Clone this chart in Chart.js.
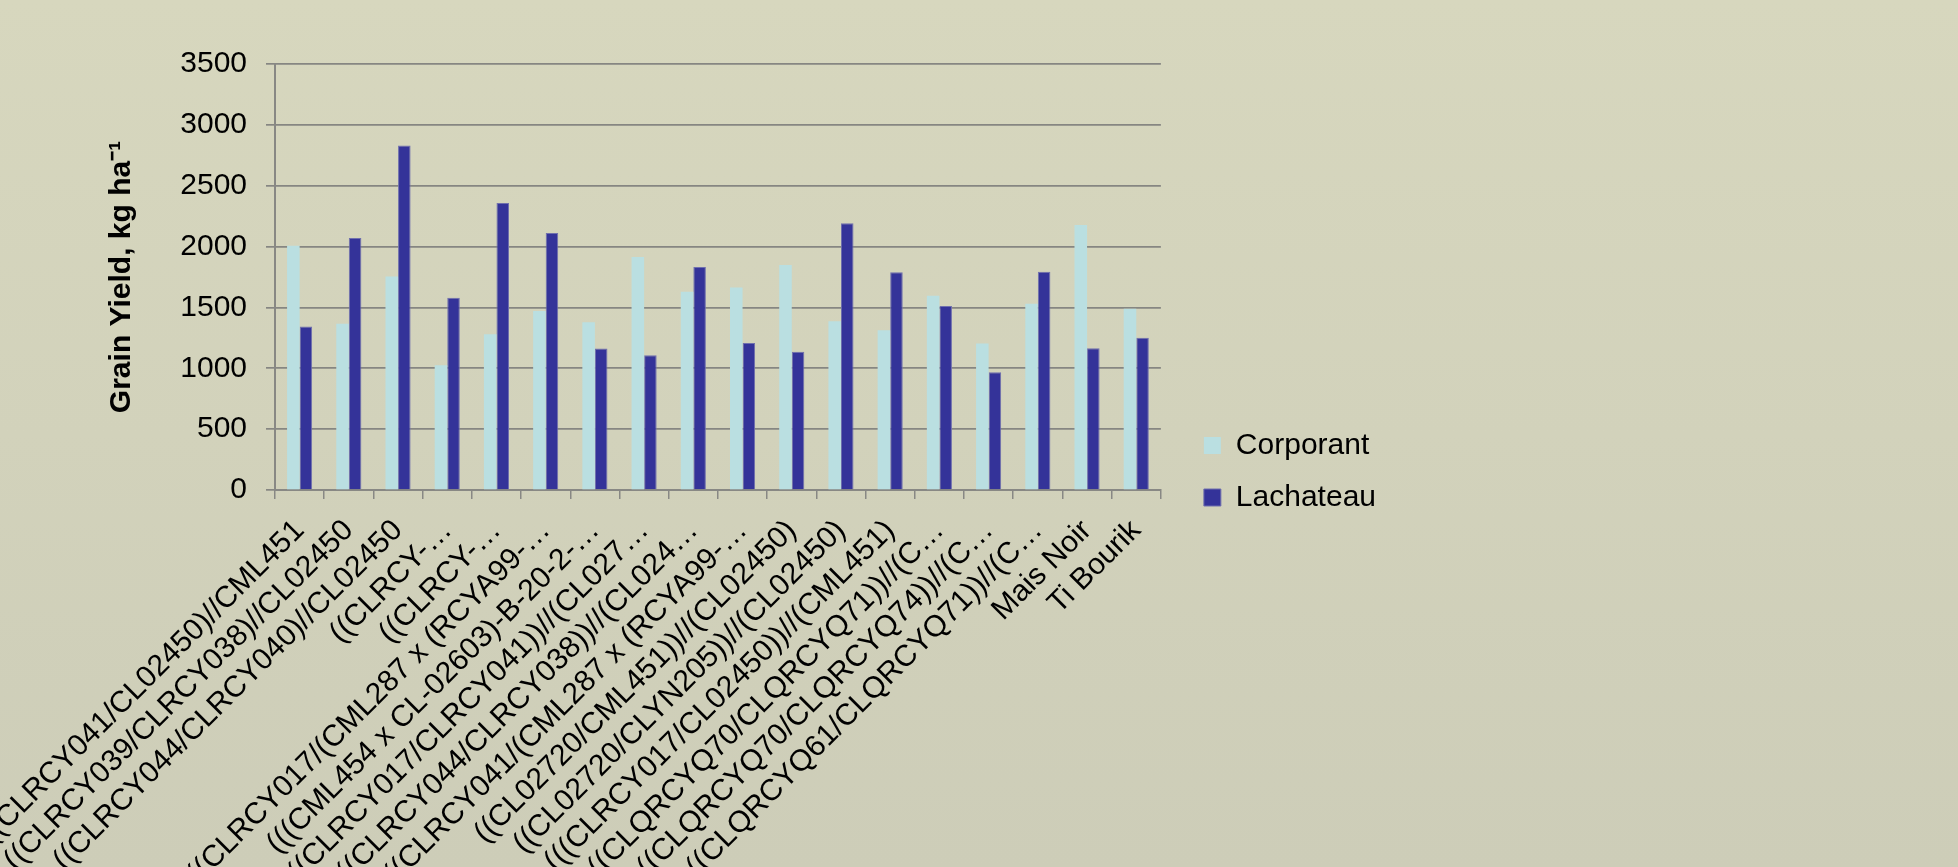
<!DOCTYPE html>
<html>
<head>
<meta charset="utf-8">
<title>Grain yield</title>
<script src="https://cdn.jsdelivr.net/npm/chart.js@4.4.1/dist/chart.umd.min.js"></script>
<style>
  html, body { margin: 0; padding: 0; }
  body { background: linear-gradient(#d7d7be, #cdcdb8); }
  #wrap { width: 1958px; height: 867px; position: relative; }
</style>
</head>
<body>
<div id="wrap"><canvas id="chart"></canvas></div>
<script>
var entries = [
    "((CLRCY041/CL02450)//CML451",
    "((CLRCY039/CLRCY038)//CL02450",
    "((CLRCY044/CLRCY040)//CL02450",
    "((CLRCY-…",
    "((CLRCY-…",
    "(((CLRCY017/(CML287 x (RCYA99-…",
    "(((CML454 x CL-02603)-B-20-2-…",
    "(((CLRCY017/CLRCY041))//(CL027…",
    "(((CLRCY044/CLRCY038))//(CL024…",
    "((CLRCY041/(CML287 x (RCYA99-…",
    "((CL02720/CML451))//(CL02450)",
    "((CL02720/CLYN205))//(CL02450)",
    "(((CLRCY017/CL02450))//(CML451)",
    "((CLQRCYQ70/CLQRCYQ71))//(C…",
    "((CLQRCYQ70/CLQRCYQ74))//(C…",
    "((CLQRCYQ61/CLQRCYQ71))//(C…",
    "Mais Noir",
    "Ti Bourik"
];
var corporant = [2007, 1365, 1755, 1025, 1280, 1470, 1379, 1914, 1629, 1664, 1848, 1387, 1313, 1596, 1204, 1530, 2177, 1489];
var lachateau = [1343, 2070, 2830, 1579, 2358, 2111, 1163, 1108, 1832, 1207, 1135, 2191, 1790, 1511, 968, 1793, 1165, 1250];
var yMax = 3500;
var yStep = 500;

Chart.defaults.font.family = "'Liberation Sans', Arial, sans-serif";
Chart.defaults.font.size = 30;
Chart.defaults.color = "#000";

// moves the legend column down/right a little from where the layout puts it
var legendNudge = {
    id: "legendNudge",
    afterLayout: function (chart) {
        var lg = chart.legend;
        lg.left += 21; lg.right += 21;
        lg.top += 6; lg.bottom += 6;
    }
};

new Chart("chart", {
    type: "bar",
    data: {
        labels: entries,
        datasets: [{
            label: "Corporant",
            data: corporant,
            backgroundColor: "#badfe1",
            borderWidth: 0
        }, {
            label: "Lachateau",
            data: lachateau,
            backgroundColor: "#343399",
            borderColor: "#6f6fae",
            borderWidth: 1
        }]
    },
    options: {
        responsive: true,
        maintainAspectRatio: false,
        animation: false,
        categoryPercentage: 0.51,
        barPercentage: 1.0,
        layout: {padding: {left: 100, top: 64, right: 593, bottom: 0}},
        plugins: {
            legend: {
                position: "right",
                labels: {boxWidth: 17, boxHeight: 17, padding: 22, font: {size: 30}}
            },
            tooltip: {enabled: false}
        },
        scales: {
            x: {
                grid: {drawOnChartArea: false, offset: true, tickLength: 9, color: "#888884", lineWidth: 1.5},
                border: {color: "#888884", width: 2},
                ticks: {autoSkip: false, minRotation: 45, maxRotation: 45, padding: 14, font: {size: 30}},
                afterFit: function (scale) {
                    // long entry names run off the bottom edge
                    scale.height = 377;
                    scale.paddingLeft = 0;
                    scale.paddingRight = 0;
                }
            },
            y: {
                min: 0,
                max: yMax,
                grid: {color: "#868682", lineWidth: 1.7, tickLength: 9},
                border: {color: "#888884", width: 2},
                ticks: {
                    stepSize: yStep,
                    padding: 19,
                    font: {size: 30},
                    callback: function (v) { return String(v); }
                },
                title: {
                    display: true,
                    text: "Grain Yield, kg ha⁻¹",
                    font: {size: 30, weight: "bold"}
                },
                afterFit: function (scale) {
                    scale.width = 175;
                }
            }
        }
    },
    plugins: [legendNudge]
});
</script>
</body>
</html>
